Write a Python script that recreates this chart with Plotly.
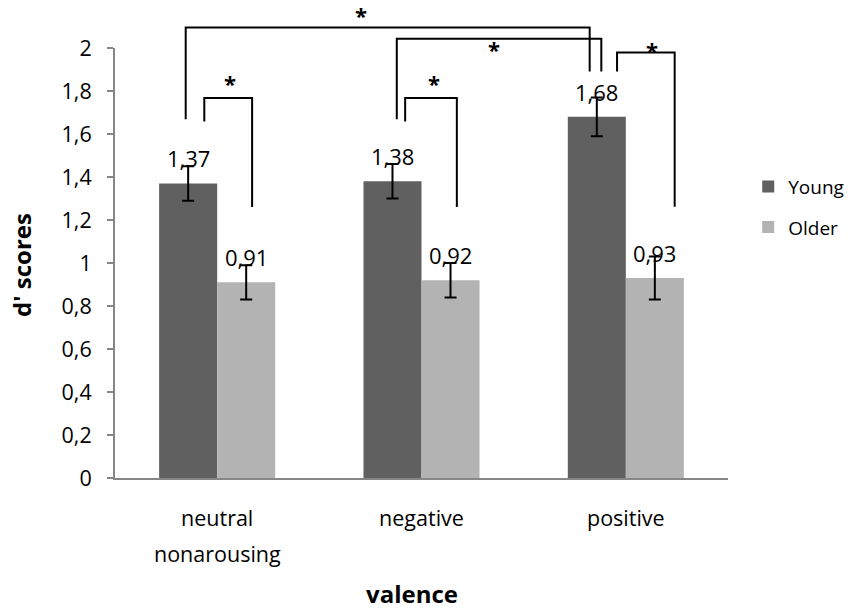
import plotly.graph_objects as go

categories = ["neutral", "negative", "positive"]
cat_second_line = ["nonarousing", "", ""]
young = [1.37, 1.38, 1.68]
older = [0.91, 0.92, 0.93]
young_err = [0.08, 0.08, 0.09]
older_err = [0.08, 0.08, 0.10]
young_labels = ["1,37", "1,38", "1,68"]
older_labels = ["0,91", "0,92", "0,93"]
y_tick_vals = [0, 0.2, 0.4, 0.6, 0.8, 1.0, 1.2, 1.4, 1.6, 1.8, 2.0]
y_tick_text = ["0", "0,2", "0,4", "0,6", "0,8", "1", "1,2", "1,4", "1,6", "1,8", "2"]

# significance brackets (x in category units, y in d' units)
br_x0 = [-0.154, 0.879, -0.063, 0.920, 1.957]
br_x1 = [1.823, 1.880, 0.171, 1.173, 2.239]
br_top = [2.095, 2.043, 1.768, 1.768, 1.979]
br_left_end = [1.669, 1.669, 1.658, 1.658, 1.891]
br_right_end = [1.891, 1.891, 1.261, 1.261, 1.262]
star_x = [0.705, 1.353, 0.063, 1.059, 2.13]
star_y = [2.155, 1.995, 1.837, 1.837, 1.99]

FONT = "Open Sans"
YMAX = 2.0
bargap = 0.432
bw = (1 - bargap) / 2
xs = list(range(len(categories)))

fig = go.Figure()
fig.add_trace(go.Bar(
    x=xs, y=young, name="Young", marker=dict(color="#606060", line=dict(width=0)),
    error_y=dict(type="data", array=young_err, color="black", thickness=2, width=6),
    legendgroup="a",
))
fig.add_trace(go.Bar(
    x=xs, y=older, name="Older", marker=dict(color="#b3b3b3", line=dict(width=0)),
    error_y=dict(type="data", array=older_err, color="black", thickness=2, width=6),
    legendgroup="b",
))

annotations = []
for i in xs:
    annotations.append(dict(x=i - bw / 2, y=young[i], xref="x", yref="y", text=young_labels[i],
                            showarrow=False, yanchor="middle", yshift=25,
                            font=dict(family=FONT, size=22, color="black")))
    annotations.append(dict(x=i + bw / 2, y=older[i], xref="x", yref="y", text=older_labels[i],
                            showarrow=False, yanchor="middle", yshift=25,
                            font=dict(family=FONT, size=22, color="black")))
    if cat_second_line[i]:
        annotations.append(dict(x=i, y=0, xref="x", yref="paper",
                                text=cat_second_line[i],
                                showarrow=False, yanchor="middle", yshift=-75,
                                font=dict(family=FONT, size=21.5, color="black")))

shapes = []
for x0, x1, top, le, re in zip(br_x0, br_x1, br_top, br_left_end, br_right_end):
    path = f"M{x0},{le / YMAX} L{x0},{top / YMAX} L{x1},{top / YMAX} L{x1},{re / YMAX}"
    shapes.append(dict(type="path", path=path, xref="x", yref="paper",
                       line=dict(color="black", width=2)))
for sx, sy in zip(star_x, star_y):
    annotations.append(dict(x=sx, y=sy / YMAX, xref="x", yref="paper", text="<b>*</b>",
                            showarrow=False, yanchor="middle",
                            font=dict(family=FONT, size=22, color="black")))

# axis titles
annotations.append(dict(x=0.5, y=0, xref="paper", yref="paper", text="<b>valence</b>",
                        showarrow=False, yanchor="middle", yshift=-115, xshift=-10,
                        font=dict(family=FONT, size=24, color="black")))
annotations.append(dict(x=0, y=0.5, xref="paper", yref="paper", text="<b>d' scores</b>",
                        showarrow=False, xanchor="center", xshift=-94, yshift=-2, textangle=-90,
                        font=dict(family=FONT, size=24, color="black")))

fig.update_layout(
    width=849, height=610, autosize=False,
    margin=dict(l=115, r=121, t=48, b=132, autoexpand=False),
    paper_bgcolor="white", plot_bgcolor="white",
    barmode="group", bargap=bargap, bargroupgap=0,
    font=dict(family=FONT, size=21.5, color="black"),
    shapes=shapes, annotations=annotations,
    legend=dict(x=1.033, y=0.722, xanchor="left", yanchor="top",
                font=dict(family=FONT, size=19, color="black"),
                tracegroupgap=13, bgcolor="rgba(0,0,0,0)", itemwidth=30),
    xaxis=dict(range=[-0.5, 2.5], tickvals=xs, ticktext=categories,
               showline=True, linecolor="#868686", linewidth=2, ticks="",
               showgrid=False, zeroline=False, ticklabelstandoff=20,
               tickfont=dict(family=FONT, size=21.5, color="black")),
    yaxis=dict(range=[0, YMAX], tickvals=y_tick_vals, ticktext=y_tick_text,
               showline=True, linecolor="#868686", linewidth=2, ticks="outside",
               ticklen=6, tickcolor="#868686", tickwidth=1.5, showgrid=False, zeroline=False,
               ticklabelstandoff=11, tickfont=dict(family=FONT, size=21.5, color="black")),
)

fig.write_html("out.html")
